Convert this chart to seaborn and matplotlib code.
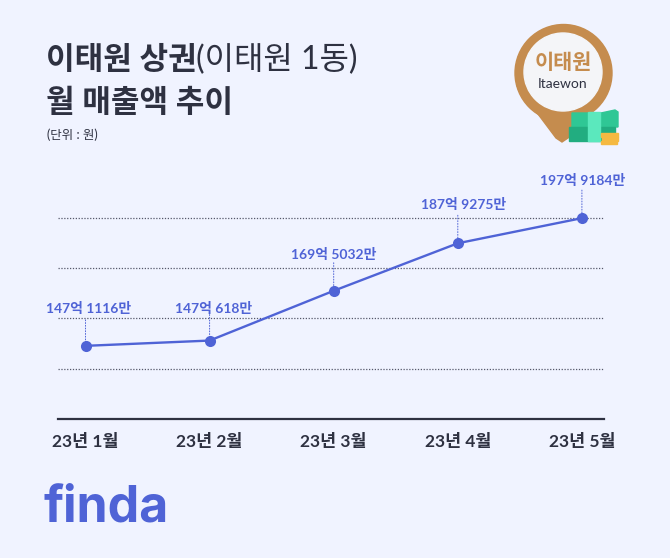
import pandas as pd
import seaborn as sns
from matplotlib import pyplot as plt
from matplotlib.patches import Circle, Polygon, Rectangle

months = ["23년 1월", "23년 2월", "23년 3월", "23년 4월", "23년 5월"]
# heights, in 억 (the chart is not strictly to scale)
sales = [147.1, 149.2, 169.0, 187.9, 197.9]
value_labels = ["147억 1116만", "147억 618만", "169억 5032만", "187억 9275만", "197억 9184만"]
grid_values = [138, 158, 178, 198]

BG = "#f0f3ff"
BLUE = "#4f63d6"
DARK = "#2e3141"
BROWN = "#c58c4e"
KR = ["Lato", "Noto Sans CJK KR"]

sns.set_style("white")
plt.rcParams["font.family"] = KR

fig = plt.figure(figsize=(6.7, 5.58), dpi=100, facecolor=BG)
ax = fig.add_axes([58 / 670, 139 / 558, 546 / 670, 269 / 558], facecolor="none")

df = pd.DataFrame({"month": months, "sales": sales})
sns.lineplot(data=df, x="month", y="sales", ax=ax, color=BLUE, linewidth=1.7, marker="o",
             markersize=8, markeredgewidth=0, sort=False, zorder=5)

ax.set_xlim(-0.2216, 4.178)
ax.set_ylim(118, 225)
ax.set_xlabel("")
ax.set_ylabel("")
ax.set_yticks(grid_values)
ax.set_yticklabels([])
ax.tick_params(axis="y", length=0)
ax.tick_params(axis="x", length=0, pad=10.5)
ax.set_xticks(range(len(months)))
ax.set_xticklabels(months, fontsize=12.5, fontweight="bold", color=DARK)
ax.yaxis.grid(True, linestyle=(0, (1, 1.3)), linewidth=0.9, color="#55586a")
ax.xaxis.grid(False)
for s in ["top", "left", "right"]:
    ax.spines[s].set_visible(False)
ax.spines["bottom"].set_color(DARK)
ax.spines["bottom"].set_linewidth(1.6)

# value labels with dotted leaders
leader_len = [26, 26, 28, 28, 28]
label_y = [37, 32, 36, 39, 38]
label_dx = [3, 4, 0, 6, 1]
for i, (v, lab) in enumerate(zip(sales, value_labels)):
    ax.annotate("", xy=(i, v), xytext=(0, leader_len[i]), textcoords="offset pixels",
                arrowprops=dict(arrowstyle="-", linestyle=(0, (1, 1.8)), linewidth=0.7, color=BLUE, shrinkA=0, shrinkB=0))
    ax.annotate(lab, xy=(i, v), xytext=(label_dx[i], label_y[i]), textcoords="offset pixels",
                ha="center", va="center", fontsize=10, fontweight="bold", color=BLUE)

# overlay in pixel coordinates for titles, pin and logo
ov = fig.add_axes([0, 0, 1, 1], facecolor="none")
ov.set_xlim(0, 670)
ov.set_ylim(558, 0)
ov.axis("off")

ov.text(46, 59, "이태원 상권", fontsize=22.4, fontweight="bold", color=DARK, va="center")
ov.text(196, 59, "(이태원 1동)", fontsize=23, fontweight="normal", color=DARK, va="center")
ov.text(46, 102, "월 매출액 추이", fontsize=22.4, fontweight="bold", color=DARK, va="center")
ov.text(47, 135, "(단위 : 원)", fontsize=9, color=DARK, va="center")

# location pin
ov.add_patch(Polygon([[517, 86], [556, 138], [562, 142], [568, 138], [609, 86]], closed=True, color=BROWN))
ov.add_patch(Circle((563.5, 73), 48.5, color=BROWN))
ov.add_patch(Circle((563, 72), 39, color="#f4f5f8"))
ov.text(563, 63, "이태원", fontsize=15, fontweight="bold", color=BROWN, ha="center", va="center")
ov.text(563, 84, "Itaewon", fontsize=10, color=DARK, ha="center", va="center")

# money icon
ov.add_patch(Polygon([[572, 113], [601, 113], [615, 110], [618, 112], [618, 127], [572, 127]], closed=True, color="#2fc795"))
ov.add_patch(Rectangle((569, 127), 46, 14, color="#22ad80"))
ov.add_patch(Rectangle((588, 112), 12, 29, color="#5be8bd"))
ov.add_patch(Rectangle((601, 133), 17, 3.5, color="#f5b942"))
ov.add_patch(Rectangle((602, 137), 16, 3.5, color="#f5b942"))
ov.add_patch(Rectangle((601, 141), 16, 3, color="#f5b942"))

# logo
ov.text(44, 521, "finda", fontsize=36, fontweight="bold", color=BLUE, va="baseline", family="Inter")

fig.savefig("out.png", dpi=100, facecolor=BG)
